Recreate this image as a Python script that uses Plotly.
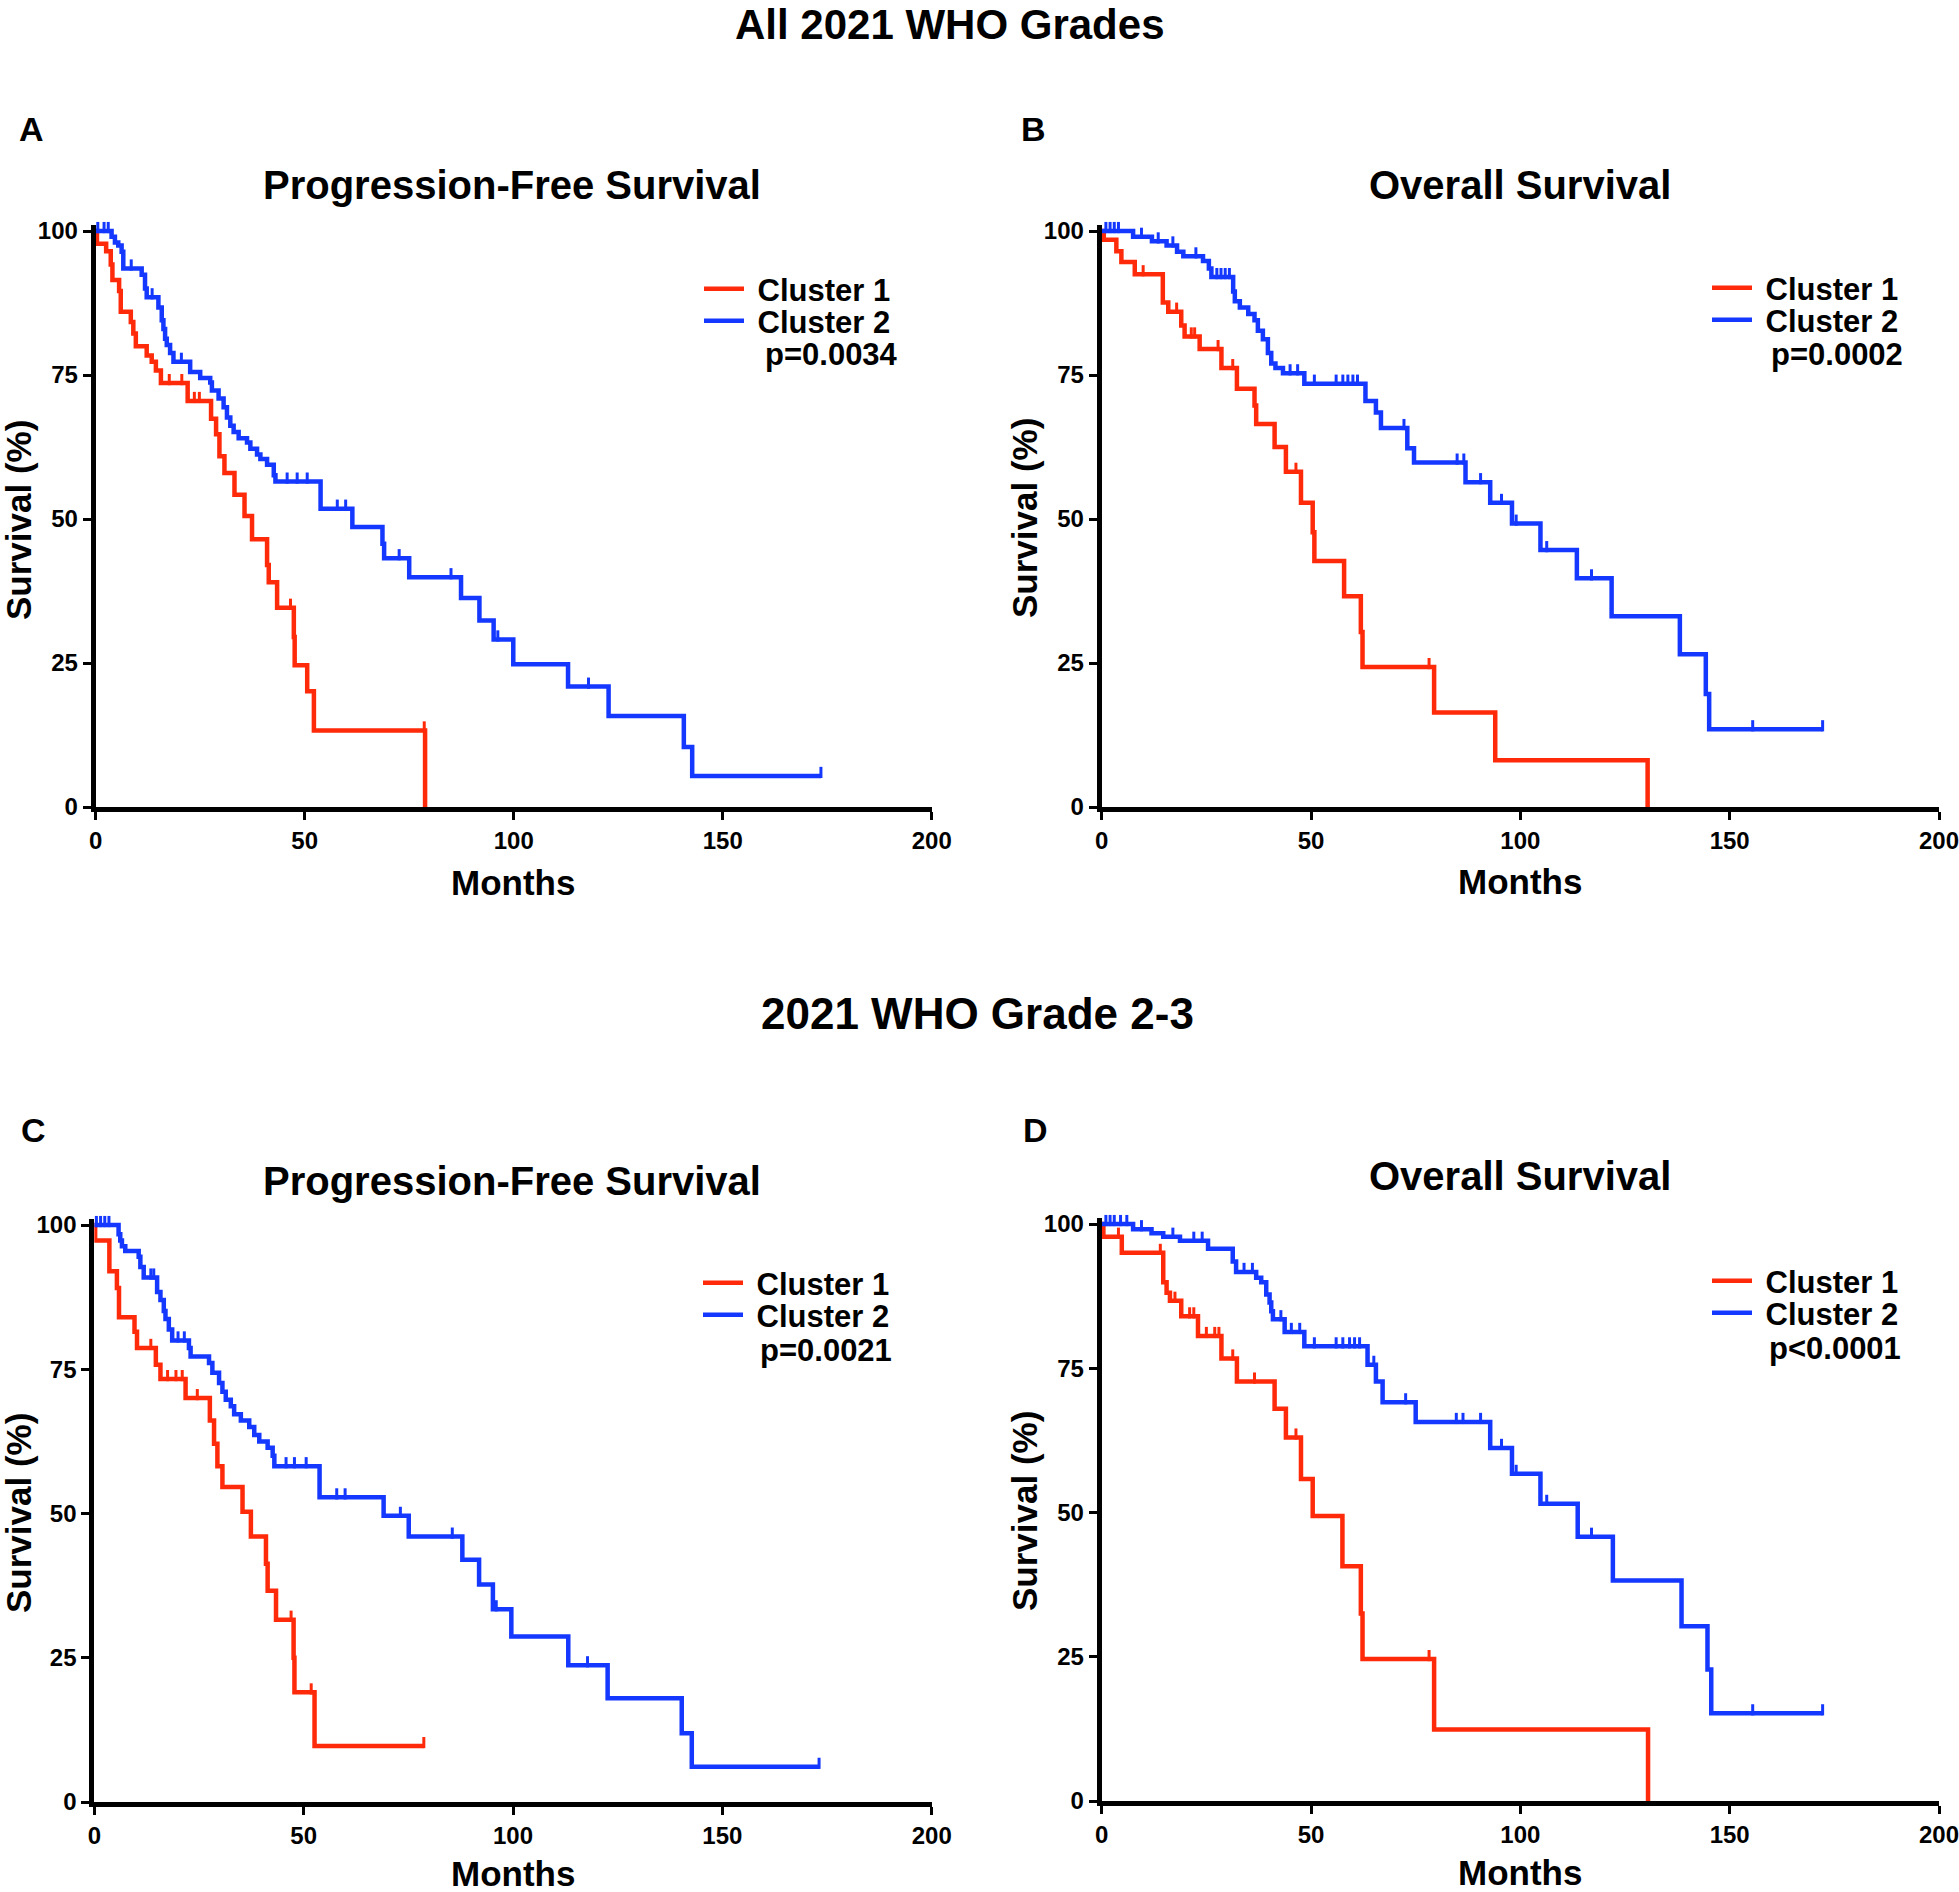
import numpy as np
import plotly.graph_objects as go

W, H = 1959, 1892
RED = '#FF2A0A'
BLUE = '#1438FF'
FONT = 'Liberation Sans, Arial, Helvetica, sans-serif'

# ---------------- data (months, survival %) ----------------
# Panel A: PFS, all grades
a_c1_t = [0.3, 2.5, 3.6, 4.0, 5.6, 6.0, 8.4, 9.0, 9.6, 12.2, 13.4, 14.4, 15.6, 22.0, 27.6, 28.8, 29.6,
          30.8, 33.2, 35.6, 37.4, 41.0, 41.4, 43.4, 47.4, 47.6, 50.6, 52.2, 78.8]
a_c1_s = [97.8, 96.5, 94.2, 91.5, 89.6, 86.0, 84.2, 82.2, 80.0, 78.4, 77.3, 75.8, 73.6, 70.5, 67.4, 64.7, 60.9,
          58.0, 54.2, 50.5, 46.5, 42.0, 39.0, 34.6, 29.5, 24.6, 20.1, 13.3, 0.0]
a_c1_cens = [17.6, 20.6, 23.6, 24.8, 46.6, 78.6]
a_c2_t = [3.8, 4.6, 5.4, 6.2, 6.6, 11.0, 11.8, 12.2, 15.0, 15.8, 16.2, 16.6, 17.0, 17.8, 18.6, 22.6, 25.0,
          27.4, 27.8, 29.4, 30.6, 31.4, 32.2, 33.0, 34.2, 36.2, 37.0, 38.6, 39.4, 41.0, 42.6, 43.0, 53.8,
          61.4, 68.6, 69.0, 75.0, 87.4, 91.8, 95.2, 99.9, 113.0, 122.7, 140.7, 142.7]
a_c2_s = [99.0, 98.0, 97.5, 96.4, 93.5, 92.4, 90.0, 88.5, 86.7, 84.5, 83.0, 81.3, 80.2, 78.8, 77.3, 75.5, 74.5,
          73.7, 72.3, 70.9, 69.4, 67.6, 66.2, 65.1, 64.0, 63.3, 62.2, 61.2, 60.4, 59.4, 57.6, 56.5, 51.8,
          48.6, 45.7, 43.2, 39.9, 36.3, 32.4, 29.1, 24.8, 20.9, 15.8, 10.4, 5.4]
a_c2_cens = [0.5, 2.0, 3.0, 8.5, 13.5, 20.5, 45.8, 48.2, 50.6, 57.8, 59.8, 72.6, 85.0, 96.2, 117.9, 173.5]

# Panel B: OS, all grades
b_c1_t = [0.5, 3.5, 4.7, 7.9, 14.6, 15.9, 19.0, 19.8, 23.4, 28.6, 32.3, 36.5, 36.9, 41.3, 44.0, 47.6, 50.4,
          50.8, 57.9, 61.9, 62.3, 79.4, 94.0, 130.4]
b_c1_s = [98.5, 96.5, 94.6, 92.5, 87.6, 86.0, 83.6, 81.7, 79.5, 76.2, 72.6, 69.7, 66.5, 62.5, 58.2, 52.8, 47.7,
          42.7, 36.6, 30.4, 24.3, 16.4, 8.1, 0.0]
b_c1_cens = [9.9, 17.9, 21.4, 22.2, 27.8, 31.3, 46.4, 78.2]
b_c2_t = [7.5, 12.0, 15.5, 18.0, 19.5, 24.2, 25.6, 26.2, 31.4, 31.8, 33.0, 35.0, 36.5, 37.3, 38.5, 39.7, 40.5,
          41.5, 43.3, 48.4, 63.0, 65.5, 66.7, 73.0, 74.6, 86.9, 92.8, 98.0, 104.8, 113.5, 121.8, 138.1,
          144.3, 145.1]
b_c2_s = [99.0, 98.2, 97.5, 96.4, 95.6, 94.8, 93.5, 92.0, 89.5, 87.8, 86.7, 85.6, 84.5, 82.7, 81.2, 78.8, 77.0,
          76.2, 75.3, 73.5, 70.5, 68.5, 65.8, 62.3, 59.8, 56.4, 52.8, 49.2, 44.6, 39.7, 33.1, 26.5,
          19.6, 13.5]
b_c2_cens = [1.0, 2.0, 3.0, 4.0, 9.5, 13.5, 17.0, 22.5, 27.5, 28.5, 29.5, 30.5, 45.0, 46.8, 50.8, 56.0, 57.6,
             58.8, 60.0, 61.1, 72.2, 84.9, 86.5, 90.5, 95.5, 99.0, 106.3, 117.0, 155.5, 172.2]

# Panel C: PFS, grade 2-3
c_c1_t = [0.2, 3.6, 5.4, 5.9, 9.6, 10.2, 14.7, 15.8, 21.8, 27.6, 28.6, 29.4, 30.6, 35.4, 37.4, 41.0, 41.4,
          43.4, 47.6, 47.8, 52.6]
c_c1_s = [97.3, 92.0, 89.1, 84.0, 81.5, 78.7, 75.8, 73.3, 70.0, 66.1, 62.1, 58.2, 54.6, 50.3, 46.0, 41.3, 36.6,
          31.6, 25.0, 19.0, 9.7]
c_c1_cens = [13.5, 17.5, 19.5, 21.0, 24.6, 47.0, 51.8, 78.7]
c_c2_t = [5.8, 6.2, 6.6, 7.4, 10.6, 11.0, 11.8, 15.0, 15.8, 16.6, 17.0, 17.8, 18.6, 22.6, 23.0, 27.4, 28.2,
          29.8, 30.6, 31.4, 32.6, 33.4, 35.0, 37.0, 38.2, 39.4, 41.4, 42.6, 43.0, 53.8, 69.1, 75.1, 87.9,
          91.9, 95.2, 99.6, 113.2, 122.6, 140.3, 142.7]
c_c2_s = [98.4, 97.3, 96.3, 95.5, 94.5, 92.7, 90.9, 88.4, 87.0, 85.1, 83.7, 81.9, 80.0, 78.7, 77.2, 76.1, 74.4,
          72.6, 71.1, 69.7, 68.6, 67.2, 66.1, 65.0, 63.6, 62.5, 61.4, 60.0, 58.2, 52.8, 49.6, 46.0, 42.0,
          37.7, 33.4, 28.7, 23.7, 18.0, 11.9, 6.1]
c_c2_cens = [0.5, 1.5, 2.5, 3.5, 13.5, 14.2, 20.0, 21.5, 45.8, 47.8, 50.6, 57.9, 59.9, 73.1, 85.5, 96.0,
             117.8, 173.1]

# Panel D: OS, grade 2-3
d_c1_t = [0.4, 4.8, 14.7, 15.5, 16.3, 19.0, 23.0, 28.6, 32.3, 41.3, 44.0, 47.6, 50.4, 57.5, 61.9, 62.3,
          79.4, 130.5]
d_c1_s = [97.8, 95.0, 89.9, 88.1, 86.7, 84.0, 80.6, 76.7, 72.7, 68.0, 63.0, 55.8, 49.4, 40.7, 32.5, 24.6,
          12.4, 0.0]
d_c1_cens = [4.0, 14.0, 17.5, 21.0, 22.0, 25.0, 27.0, 28.0, 31.3, 36.5, 46.4, 78.2]
d_c2_t = [7.5, 11.9, 14.7, 18.7, 25.4, 31.3, 32.1, 36.9, 38.1, 39.3, 40.1, 40.5, 40.9, 43.7, 48.4, 63.5,
          65.5, 67.1, 75.0, 92.8, 98.0, 104.8, 113.7, 122.1, 138.5, 144.7, 145.6]
d_c2_s = [99.1, 98.4, 97.8, 97.1, 95.7, 93.5, 91.7, 90.7, 89.9, 87.8, 86.4, 84.9, 83.5, 81.3, 78.8, 75.6,
          72.7, 69.1, 65.7, 61.2, 56.7, 51.5, 45.8, 38.2, 30.3, 22.8, 15.2]
d_c2_cens = [1.0, 2.0, 3.0, 4.5, 6.0, 9.5, 17.0, 22.0, 24.0, 34.0, 36.0, 42.8, 45.3, 47.3, 50.8, 56.0, 57.6,
             59.2, 60.4, 61.6, 65.0, 72.6, 84.7, 86.3, 90.5, 95.5, 99.0, 106.3, 117.0, 155.5, 172.2]

series_names = ['Cluster 1', 'Cluster 2']
p_values = ['p=0.0034', 'p=0.0002', 'p=0.0021', 'p<0.0001']
panel_titles = ['Progression-Free Survival', 'Overall Survival', 'Progression-Free Survival', 'Overall Survival']
panel_letters = ['A', 'B', 'C', 'D']
group_titles = ['All 2021 WHO Grades', '2021 WHO Grade 2-3']
x_ticks = [0, 50, 100, 150, 200]
y_ticks = [0, 25, 50, 75, 100]
x_label = 'Months'
y_label = 'Survival (%)'

panels = [
    [(a_c1_t, a_c1_s, a_c1_cens), (a_c2_t, a_c2_s, a_c2_cens)],
    [(b_c1_t, b_c1_s, b_c1_cens), (b_c2_t, b_c2_s, b_c2_cens)],
    [(c_c1_t, c_c1_s, c_c1_cens), (c_c2_t, c_c2_s, c_c2_cens)],
    [(d_c1_t, d_c1_s, d_c1_cens), (d_c2_t, d_c2_s, d_c2_cens)],
]
colors = [RED, BLUE]

# ---------------- layout geometry (pixels) ----------------
geo = [
    dict(x0=95.7, x1=931.7, y0=807, y100=231),
    dict(x0=1101.7, x1=1939, y0=807, y100=231),
    dict(x0=94.3, x1=931.7, y0=1802, y100=1225),
    dict(x0=1101.7, x1=1939, y0=1801, y100=1224),
]
YMAX = 101.0
CENS_LIFT = 0.6   # censor ticks sit on top of the line


def px(x):
    return x / W


def py(y):
    return 1 - y / H


def km_line(t, s, cens):
    xs = [0.0] + list(t)
    ys = [100.0] + list(s)
    last = max(cens) if cens else 0
    if last > t[-1]:
        xs.append(last)
        ys.append(s[-1])
    return xs, ys


def km_at(t, s, c):
    idx = np.searchsorted(np.array(t), np.array(c), side='right')
    sv = np.concatenate([[100.0], np.array(s)])
    return sv[idx]


def leg_name(k):
    return 'legend' if k == 0 else 'legend' + str(k + 1)


fig = go.Figure()

for i, (pan, g) in enumerate(zip(panels, geo)):
    sfx = '' if i == 0 else str(i + 1)
    xa, ya = 'x' + sfx, 'y' + sfx
    for j, (t, s, cens) in enumerate(pan):
        xs, ys = km_line(t, s, cens)
        fig.add_trace(go.Scatter(x=xs, y=ys, mode='lines', line=dict(color=colors[j], width=4.5, shape='hv'),
                                 name='\u00a0' + series_names[j], xaxis=xa, yaxis=ya,
                                 legend=leg_name(2 * i + j), showlegend=True, hoverinfo='skip'))
        fig.add_trace(go.Scatter(x=cens, y=km_at(t, s, cens) + CENS_LIFT, mode='markers',
                                 marker=dict(symbol='line-ns', size=8, color=colors[j],
                                             line=dict(color=colors[j], width=3)),
                                 xaxis=xa, yaxis=ya, showlegend=False, cliponaxis=False, hoverinfo='skip'))

    ytop = g['y0'] - (g['y0'] - g['y100']) * YMAX / 100.0
    axis_common = dict(showline=True, linewidth=5, linecolor='black', ticks='outside', ticklen=8, tickwidth=3,
                       tickcolor='black', showgrid=False, zeroline=False, automargin=False,
                       ticklabeloverflow='allow',
                       tickfont=dict(family=FONT, size=24, color='black', weight='bold'))
    fig.layout['xaxis' + sfx] = dict(domain=[px(g['x0']), px(g['x1'])], range=[0, 200], tickvals=x_ticks,
                                      anchor=ya, **axis_common)
    fig.layout['yaxis' + sfx] = dict(domain=[py(g['y0']), py(ytop)], range=[0, YMAX], tickvals=y_ticks,
                                      anchor=xa, **axis_common)

# one single-entry legend per curve (pixel positions of entry centres)
leg_pos = [(699, 289), (699, 321), (1707, 288), (1707, 320),
           (698, 1283), (698, 1315), (1707, 1281), (1707, 1313)]
for k, (lx, ly) in enumerate(leg_pos):
    fig.layout[leg_name(k)] = dict(x=px(lx), y=py(ly), xanchor='left', yanchor='middle',
                                   bgcolor='rgba(0,0,0,0)', borderwidth=0, itemwidth=40,
                                   font=dict(family=FONT, size=31, color='black', weight='bold'))

ann = []


def add_text(text, x, y, size, angle=0, xanchor='center'):
    ann.append(dict(text=text, x=px(x), y=py(y), xref='paper', yref='paper', showarrow=False,
                    xanchor=xanchor, yanchor='middle', textangle=angle,
                    font=dict(family=FONT, size=size, color='black', weight='bold')))


add_text(group_titles[0], 950, 25, 42)
add_text(group_titles[1], 977, 1014, 44)
letter_pos = [(31, 129), (1033, 129), (33, 1130), (1035, 1130)]
title_pos = [(512, 185), (1520, 185), (512, 1181), (1520, 1176)]
xlab_pos = [(513, 882), (1520, 881), (513, 1873), (1520, 1872)]
ylab_pos = [(18, 520), (1024, 518), (18, 1513), (1024, 1511)]
p_pos = [(763, 355), (1769, 354), (758, 1350), (1767, 1348)]
for i in range(4):
    add_text(panel_letters[i], *letter_pos[i], 34)
    add_text(panel_titles[i], *title_pos[i], 40)
    add_text(x_label, *xlab_pos[i], 35)
    add_text(y_label, *ylab_pos[i], 35, angle=-90)
    add_text(p_values[i], *p_pos[i], 31, xanchor='left')

fig.update_layout(width=W, height=H, margin=dict(l=0, r=0, t=0, b=0, autoexpand=False), paper_bgcolor='white',
                  plot_bgcolor='white', annotations=ann, showlegend=True)

fig.write_html('out.html', config={'displayModeBar': False},
               post_script="document.body.style.margin='0px';document.body.style.overflow='hidden';")
